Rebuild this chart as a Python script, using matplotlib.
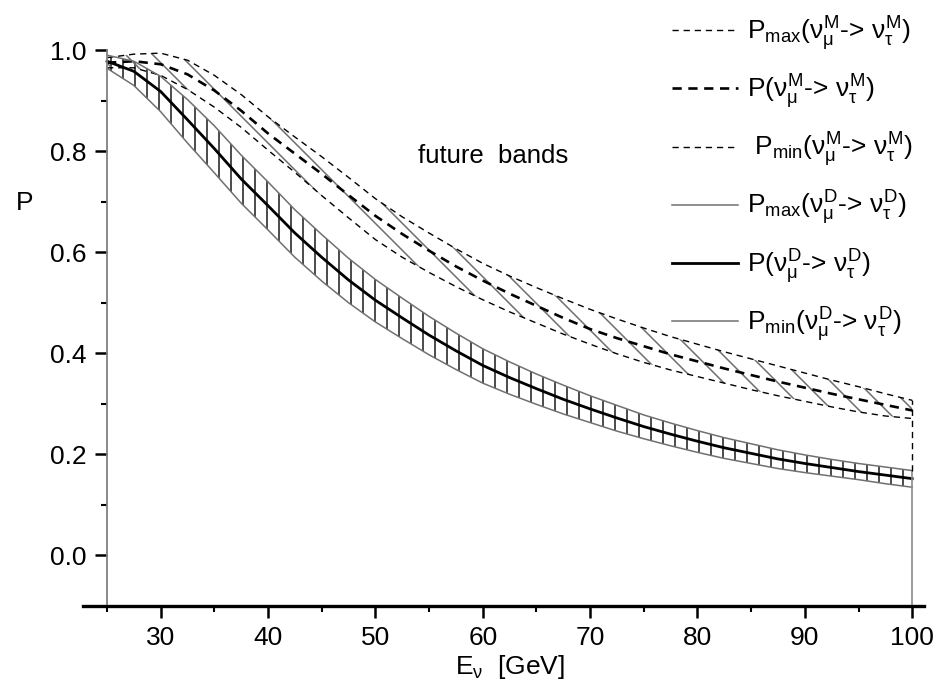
import numpy as np
import matplotlib
matplotlib.use("Agg")
import matplotlib.pyplot as plt
from matplotlib.patches import Polygon
from matplotlib.collections import LineCollection
from matplotlib.ticker import MultipleLocator, FixedLocator

plt.rcParams.update({
    "font.family": "Liberation Sans",
    "mathtext.fontset": "custom",
    "mathtext.rm": "Liberation Sans",
    "mathtext.it": "Liberation Sans",
    "mathtext.bf": "Liberation Sans:bold",
})

# neutrino energy grid [GeV]
energy = [25, 27.5, 30, 32.5, 35, 37.5, 40, 42.5, 45, 47.5, 50, 52.5, 55, 57.5,
          60, 62.5, 65, 67.5, 70, 72.5, 75, 77.5, 80, 82.5, 85, 87.5, 90,
          92.5, 95, 97.5, 100]

# dirac band
p_dirac = [0.978, 0.958, 0.918, 0.862, 0.805, 0.745, 0.692, 0.638, 0.590, 0.545,
           0.505, 0.470, 0.436, 0.405, 0.376, 0.352, 0.330, 0.309, 0.290, 0.272,
           0.255, 0.240, 0.226, 0.213, 0.202, 0.191, 0.182, 0.174, 0.166, 0.159,
           0.152]
p_dirac_max = [0.990, 0.978, 0.948, 0.902, 0.850, 0.792, 0.739, 0.684, 0.635, 0.588,
               0.546, 0.509, 0.473, 0.440, 0.409, 0.383, 0.359, 0.337, 0.316, 0.297,
               0.278, 0.262, 0.247, 0.233, 0.221, 0.209, 0.199, 0.190, 0.182, 0.175,
               0.168]
p_dirac_min = [0.964, 0.930, 0.878, 0.816, 0.757, 0.697, 0.644, 0.590, 0.543, 0.500,
               0.462, 0.429, 0.397, 0.368, 0.341, 0.319, 0.299, 0.280, 0.263, 0.246,
               0.231, 0.217, 0.204, 0.192, 0.182, 0.172, 0.164, 0.157, 0.150, 0.142,
               0.135]

# majorana band
p_major = [0.975, 0.978, 0.972, 0.952, 0.920, 0.880, 0.835, 0.795, 0.755, 0.713,
           0.672, 0.636, 0.603, 0.572, 0.544, 0.518, 0.494, 0.470, 0.448, 0.430,
           0.414, 0.398, 0.384, 0.370, 0.357, 0.344, 0.332, 0.320, 0.309, 0.298,
           0.287]
p_major_max = [0.985, 0.992, 0.994, 0.980, 0.950, 0.912, 0.868, 0.828, 0.789, 0.748,
               0.706, 0.670, 0.638, 0.607, 0.578, 0.553, 0.530, 0.508, 0.487, 0.468,
               0.450, 0.433, 0.418, 0.403, 0.389, 0.375, 0.361, 0.347, 0.334, 0.320,
               0.307]
p_major_min = [0.965, 0.965, 0.950, 0.922, 0.887, 0.847, 0.802, 0.758, 0.712, 0.668,
               0.625, 0.590, 0.560, 0.532, 0.506, 0.482, 0.460, 0.438, 0.418, 0.399,
               0.382, 0.367, 0.354, 0.341, 0.328, 0.316, 0.305, 0.294, 0.284, 0.276,
               0.271]

labels = [
    r"P$_{\mathrm{max}}$($\nu_{\mu}^{\mathrm{M}}$-> $\nu_{\tau}^{\mathrm{M}}$)",
    r"P($\nu_{\mu}^{\mathrm{M}}$-> $\nu_{\tau}^{\mathrm{M}}$)",
    r" P$_{\mathrm{min}}$($\nu_{\mu}^{\mathrm{M}}$-> $\nu_{\tau}^{\mathrm{M}}$)",
    r"P$_{\mathrm{max}}$($\nu_{\mu}^{\mathrm{D}}$-> $\nu_{\tau}^{\mathrm{D}}$)",
    r"P($\nu_{\mu}^{\mathrm{D}}$-> $\nu_{\tau}^{\mathrm{D}}$)",
    r"P$_{\mathrm{min}}$($\nu_{\mu}^{\mathrm{D}}$-> $\nu_{\tau}^{\mathrm{D}}$)",
]

E = np.array(energy)

W, H = 841.0, 566.0
fig = plt.figure(figsize=(9.41, 6.94), dpi=100)
ax = fig.add_axes([83 / 941, 88 / 694, W / 941, H / 694])
ax.set_xlim(22.76, 101.1)
ax.set_ylim(-0.1, 1.02)


def band_polygon(upper, lower):
    verts = np.column_stack([np.r_[E, E[::-1]], np.r_[upper, lower[::-1]]])
    poly = Polygon(verts, closed=True, facecolor="none", edgecolor="none")
    ax.add_patch(poly)
    return poly


# dirac band with vertical hatching
d_poly = band_polygon(np.array(p_dirac_max), np.array(p_dirac_min))
xs = np.arange(4, W, 12.0) / W
vl = LineCollection([[(x, 0), (x, 1)] for x in xs], colors="#1a1a1a",
                    linewidths=1.1, transform=ax.transAxes)
ax.add_collection(vl)
vl.set_clip_path(d_poly)

# majorana band with diagonal hatching
cs = np.arange(0, W + H + 30, 27.0)
m_poly = band_polygon(np.array(p_major_max), np.array(p_major_min))
dl = LineCollection([[((c - H) / W, 1.0), (c / W, 0.0)] for c in cs],
                    colors="#6e6e6e", linewidths=1.1, transform=ax.transAxes)
ax.add_collection(dl)
dl.set_clip_path(m_poly)

thin_dash = (0, (4.5, 3.5))
thick_dash = (0, (3.5, 2.5))

h1, = ax.plot(E, p_major_max, color="black", lw=1.0, ls=thin_dash)
h2, = ax.plot(E, p_major, color="black", lw=1.9, ls=thick_dash)
h3, = ax.plot(E, p_major_min, color="black", lw=1.0, ls=thin_dash)
h4, = ax.plot(E, p_dirac_max, color="#707070", lw=1.1)
h5, = ax.plot(E, p_dirac, color="black", lw=2.0)
h6, = ax.plot(E, p_dirac_min, color="#707070", lw=1.1)

ax.vlines(E[-1], -0.1, p_dirac_max[-1], color="#8a8a8a", lw=1.2)
ax.vlines(E[-1], p_dirac_max[-1], p_major_max[-1], color="black", lw=1.0,
          ls=thin_dash)

ax.text(54.0, 0.79, "future  bands", fontsize=18.5, va="center", ha="left")

leg = ax.legend([h1, h2, h3, h4, h5, h6], labels, loc="upper left",
                bbox_to_anchor=((672 - 83) / W, (606 - 14) / H), frameon=False,
                fontsize=19, handlelength=2.5, handletextpad=0.35,
                labelspacing=0.74, borderaxespad=0.0, borderpad=0.0)

# axes styling
for side in ["top", "right"]:
    ax.spines[side].set_visible(False)
ax.spines["left"].set_position(("data", 25))
ax.spines["left"].set_bounds(-0.1, 1.0)
ax.spines["left"].set_color("#808080")
ax.spines["left"].set_linewidth(1.3)
ax.spines["bottom"].set_linewidth(2.4)

ax.set_xticks([30, 40, 50, 60, 70, 80, 90, 100])
ax.xaxis.set_minor_locator(MultipleLocator(5))
ax.yaxis.set_major_locator(FixedLocator([0.0, 0.2, 0.4, 0.6, 0.8, 1.0]))
ax.yaxis.set_minor_locator(FixedLocator([0.1, 0.3, 0.5, 0.7, 0.9]))
ax.tick_params(which="major", length=8.5, width=1.8, labelsize=19, pad=6,
               color="black")
ax.tick_params(which="minor", length=4.5, width=1.5, color="black")

ax.set_xlabel(r"E$_\nu$  [GeV]", fontsize=19)
ax.xaxis.set_label_coords((510 - 83) / W, -(653 - 606) / H)
ax.set_ylabel("P", fontsize=19, rotation=0, va="center")
ax.yaxis.set_label_coords((25 - 83) / W, (606 - 203) / H)

fig.savefig("out.png", dpi=100)
